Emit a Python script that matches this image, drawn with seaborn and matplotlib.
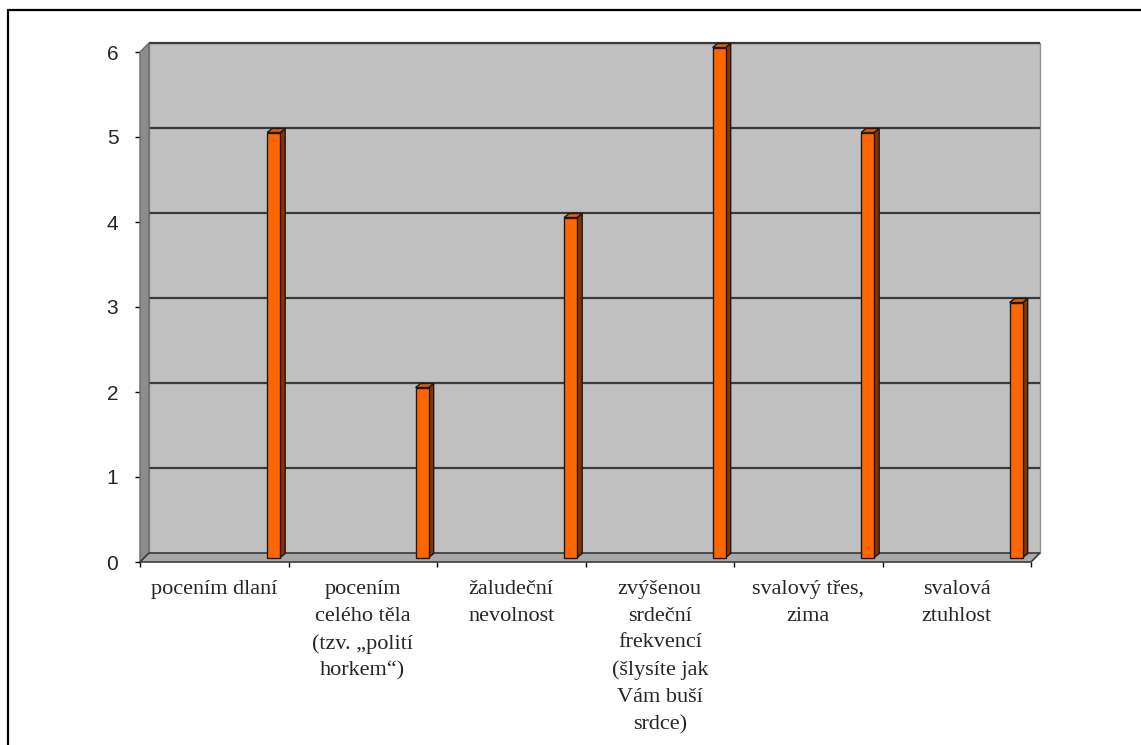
import matplotlib
matplotlib.use("Agg")
import matplotlib.pyplot as plt
import matplotlib.transforms as mtransforms
from matplotlib.patches import Rectangle, Polygon
import numpy as np
import pandas as pd
import seaborn as sns

categories = [
    "pocením dlaní",
    "pocením\ncelého těla\n(tzv. „polití\nhorkem“)",
    "žaludeční\nnevolnost",
    "zvýšenou\nsrdeční\nfrekvencí\n(šlysíte jak\nVám buší\nsrdce)",
    "svalový třes,\nzima",
    "svalová\nztuhlost",
]
values = [5, 2, 4, 6, 5, 3]
y_ticks = [0, 1, 2, 3, 4, 5, 6]

sns.set_style("white")
plt.rcParams["font.family"] = ["Liberation Sans", "DejaVu Sans"]

W, H, DPI = 1141, 745, 100
fig = plt.figure(figsize=(W / DPI, H / DPI), dpi=DPI)
ax = fig.add_axes([140 / W, (H - 562) / H, 891 / W, 510 / H])
ax.set_facecolor("none")

df = pd.DataFrame({"cat": categories, "val": values})
sns.barplot(data=df, x="cat", y="val", ax=ax, color="#FF6600", saturation=1,
            width=0.088, edgecolor="#1a1a1a", linewidth=1.0, zorder=3)

ax.set_xlim(-0.5, len(categories) - 0.5)
ax.set_ylim(0, 6)

DX, DY = 9, 9  # depth in pixels
depth = mtransforms.ScaledTranslation(DX / DPI, DY / DPI, fig.dpi_scale_trans)
back = ax.transData + depth

# back wall
ax.add_patch(Rectangle((-0.5, 0), len(categories), 6, transform=back,
                       facecolor="#C0C0C0", edgecolor="#909090", lw=1.0,
                       clip_on=False, zorder=0))
# gridlines on back wall
for t in y_ticks[1:]:
    ax.plot([-0.5, len(categories) - 0.5], [t, t], transform=back,
            color="#3a3a3a", lw=1.6, clip_on=False, zorder=0.5,
            solid_capstyle="butt")

ident = mtransforms.IdentityTransform()
x0, y0 = ax.transData.transform((-0.5, 0))
x1, _ = ax.transData.transform((len(categories) - 0.5, 0))
_, y6 = ax.transData.transform((-0.5, 6))

# left wall
ax.add_patch(Polygon([(x0, y0), (x0, y6), (x0 + DX, y6 + DY), (x0 + DX, y0 + DY)],
                     closed=True, transform=ident, facecolor="#8c8c8c",
                     edgecolor="#6a6a6a", lw=1.0, clip_on=False, zorder=0.6))
# floor
ax.add_patch(Polygon([(x0, y0), (x1, y0), (x1 + DX, y0 + DY), (x0 + DX, y0 + DY)],
                     closed=True, transform=ident, facecolor="#a8a8a8",
                     edgecolor="#3a3a3a", lw=1.2, clip_on=False, zorder=0.7))

# bars: move to the right part of each category and give depth
bar_shift = 0.40
lift = mtransforms.ScaledTranslation(0, 4.5 / DPI, fig.dpi_scale_trans)
bdx, bdy = 5, 4
for p in list(ax.patches):
    if not isinstance(p, Rectangle) or p.get_facecolor()[0] < 0.9:
        continue
    if p.get_height() <= 0 or p.get_width() > 0.5:
        continue
    p.set_x(p.get_x() + bar_shift)
    p.set_transform(ax.transData + lift)
    p.set_clip_on(False)
    tr = ax.transData + lift
    (bx0, by0) = tr.transform((p.get_x(), 0))
    (bx1, by1) = tr.transform((p.get_x() + p.get_width(), p.get_height()))
    side = Polygon([(bx1, by0), (bx1, by1), (bx1 + bdx, by1 + bdy), (bx1 + bdx, by0 + bdy)],
                   closed=True, transform=ident, facecolor="#8a3300",
                   edgecolor="#1a1a1a", lw=1.0, clip_on=False, zorder=2.9)
    top = Polygon([(bx0, by1), (bx1, by1), (bx1 + bdx, by1 + bdy), (bx0 + bdx, by1 + bdy)],
                  closed=True, transform=ident, facecolor="#e85d00",
                  edgecolor="#1a1a1a", lw=1.0, clip_on=False, zorder=2.9)
    ax.add_patch(side)
    ax.add_patch(top)

for s in ax.spines.values():
    s.set_visible(False)

ax.set_yticks(y_ticks)
ax.set_yticklabels([str(t) for t in y_ticks])
ax.tick_params(axis="y", which="major", left=True, length=3.6, width=1.0,
               color="black", pad=12, labelsize=15)

ax.set_xticks(range(len(categories)))
ax.set_xticklabels(categories, fontfamily=["Liberation Serif", "DejaVu Serif"],
                   fontsize=16, linespacing=1.55, va="top")
ax.set_xticks(np.arange(-0.5, len(categories)), minor=True)
ax.tick_params(axis="x", which="major", length=0, pad=13)
ax.tick_params(axis="x", which="minor", bottom=True, length=3.6, width=1.0,
               color="black")
ax.set_xlabel("")
ax.set_ylabel("")

# outer frame
fig.patches.append(Rectangle((8 / W, -0.1), 2, (H - 10) / H + 0.1,
                             transform=fig.transFigure, fill=False,
                             edgecolor="black", lw=1.6))

fig.savefig("out.png", dpi=DPI)
